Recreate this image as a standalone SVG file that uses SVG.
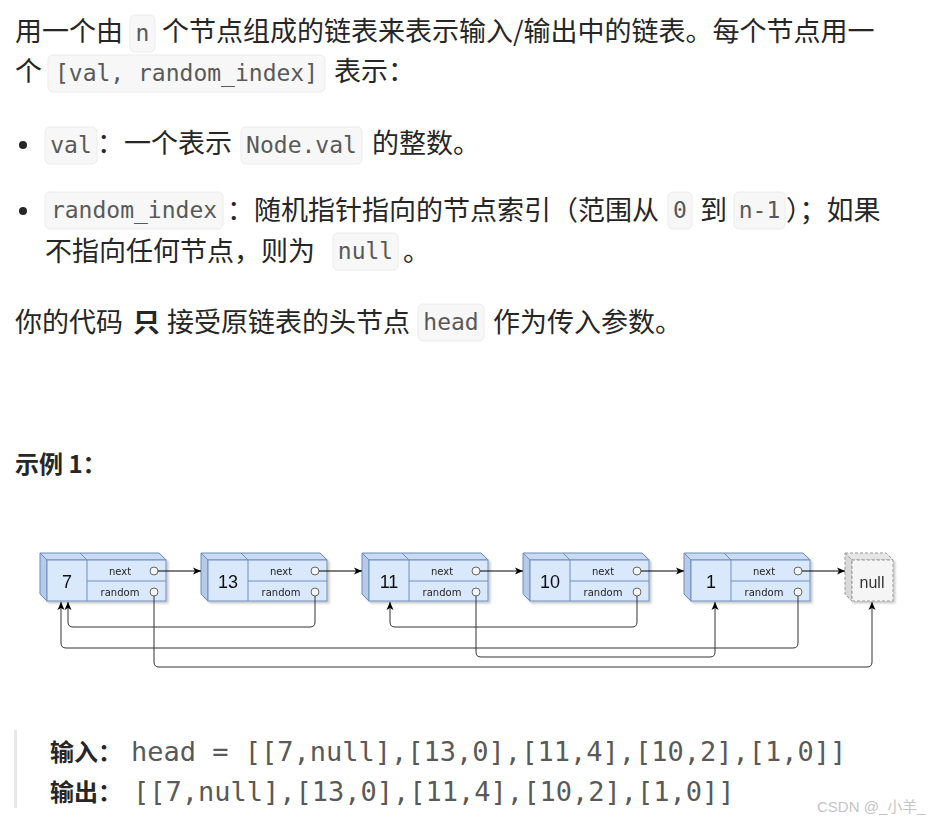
<svg xmlns="http://www.w3.org/2000/svg" width="938" height="821" viewBox="0 0 938 821">
<style>
.t{font-family:"Noto Sans CJK SC","Noto Sans",sans-serif;font-size:27px;fill:#262626}
.bd{font-weight:700}
.h{font-family:"Noto Sans CJK SC","Noto Sans",sans-serif;font-size:24px;font-weight:700;fill:#262626}
.c{font-family:"DejaVu Sans Mono","Liberation Mono",monospace;font-size:23px;fill:#595959;text-anchor:middle}
.m{font-family:"DejaVu Sans Mono","Liberation Mono",monospace;font-size:27px;fill:#595959}
.cb{fill:#f7f7f7;stroke:#ebebeb;stroke-width:1}
.front{fill:#dae8fc;stroke:#6c8ebf;stroke-width:1}
.top{fill:#c9daf2;stroke:#6c8ebf;stroke-width:1;stroke-linejoin:round}
.side{fill:#b7cbe8;stroke:#6c8ebf;stroke-width:1;stroke-linejoin:round}
.ln{stroke:#6c8ebf;stroke-width:1;fill:none}
.val{font-family:"Liberation Sans","DejaVu Sans",sans-serif;font-size:18px;fill:#111;text-anchor:middle}
.lbl{font-family:"DejaVu Sans",sans-serif;font-size:10px;fill:#222;text-anchor:middle}
.port{fill:#f5f5f5;stroke:#666;stroke-width:1}
.nfront{fill:#f5f5f5;stroke:#999;stroke-width:1;stroke-dasharray:3 2}
.ntop{fill:#e6e6e6;stroke:#999;stroke-width:1;stroke-dasharray:3 2}
.nside{fill:#d9d9d9;stroke:#999;stroke-width:1;stroke-dasharray:3 2}
.nt{font-family:"Liberation Sans","DejaVu Sans",sans-serif;font-size:16px;fill:#333;text-anchor:middle}
.nx{stroke:#000;stroke-width:1;fill:none;marker-end:url(#arr)}
.rd{stroke:#333;stroke-width:1;fill:none;marker-end:url(#arr)}
</style>
<defs>
<marker id="arr" markerUnits="userSpaceOnUse" markerWidth="9" markerHeight="8" refX="8" refY="4" orient="auto">
<path d="M0,0.5 L8,4 L0,7.5 L2,4 z" fill="#000"/>
</marker>
<filter id="sh" x="-10%" y="-10%" width="130%" height="130%">
<feDropShadow dx="2" dy="2" stdDeviation="1.2" flood-color="#000" flood-opacity="0.22"/>
</filter>
</defs>
<rect width="938" height="821" fill="#fff"/>

<g id="text">
<text class="t" x="15" y="41">用一个由</text>
<rect class="cb" x="130" y="15" width="25" height="37" rx="5"/>
<text class="c" x="142.5" y="41">n</text>
<text class="t" x="162" y="41">个节点组成的链表来表示输入/输出中的链表。每个节点用一</text>

<text class="t" x="15" y="81">个</text>
<rect class="cb" x="48" y="55" width="277" height="37" rx="5"/>
<text class="c" x="186.5" y="81">[val, random_index]</text>
<text class="t" x="334" y="81">表示：</text>

<circle cx="23" cy="145" r="4" fill="#262626"/>
<rect class="cb" x="45" y="127" width="52" height="37" rx="5"/>
<text class="c" x="71" y="153">val</text>
<text class="t" x="97" y="153">：一个表示</text>
<rect class="cb" x="241" y="127" width="121" height="37" rx="5"/>
<text class="c" x="301.5" y="153">Node.val</text>
<text class="t" x="372" y="153">的整数。</text>

<circle cx="23" cy="211" r="4" fill="#262626"/>
<rect class="cb" x="45" y="192" width="178" height="37" rx="5"/>
<text class="c" x="134" y="218">random_index</text>
<text class="t" x="227" y="220">：随机指针指向的节点索引（范围从</text>
<rect class="cb" x="668" y="192" width="24" height="37" rx="5"/>
<text class="c" x="680" y="218">0</text>
<text class="t" x="700" y="220">到</text>
<rect class="cb" x="734" y="192" width="51" height="37" rx="5"/>
<text class="c" x="759.5" y="218">n-1</text>
<text class="t" x="786" y="220">）；如果</text>

<text class="t" x="45" y="261">不指向任何节点，则为</text>
<rect class="cb" x="333" y="233" width="65" height="37" rx="5"/>
<text class="c" x="365.5" y="259">null</text>
<text class="t" x="403" y="261">。</text>

<text class="t" x="15" y="332">你的代码</text>
<text class="t bd" x="133" y="332">只</text>
<text class="t" x="167" y="332">接受原链表的头节点</text>
<rect class="cb" x="418" y="304" width="66" height="37" rx="5"/>
<text class="c" x="451" y="330">head</text>
<text class="t" x="493" y="332">作为传入参数。</text>

<text class="h" x="15" y="473">示例 1：</text>

<rect x="14" y="730" width="3" height="78" fill="#e8e8e8"/>
<text class="h" x="50" y="761">输入：</text>
<text class="m" x="131" y="761">head = [[7,null],[13,0],[11,4],[10,2],[1,0]]</text>
<text class="h" x="50" y="801">输出：</text>
<text class="m" x="133" y="801">[[7,null],[13,0],[11,4],[10,2],[1,0]]</text>
<text x="817" y="812" font-family="Liberation Sans,Noto Sans CJK SC,sans-serif" font-size="15" fill="#c4c4c4">CSDN @_小羊_</text>
</g>

<g id="node0" transform="translate(40,0)" filter="url(#sh)">
<polygon class="top" points="0,553 119,553 126,560 7,560"/>
<polygon class="side" points="0,553 7,560 7,601 0,594"/>
<rect class="front" x="7" y="560" width="119" height="41"/>
<line class="ln" x1="40" y1="553" x2="47" y2="560"/>
<line class="ln" x1="47" y1="560" x2="47" y2="601"/>
<line class="ln" x1="47" y1="581" x2="126" y2="581"/>
<text class="val" x="27" y="588">7</text>
<text class="lbl" x="80" y="575">next</text>
<text class="lbl" x="80" y="596">random</text>
<circle class="port" cx="114" cy="571" r="4"/>
<circle class="port" cx="114" cy="592" r="4"/>
</g>
<g id="node1" transform="translate(201,0)" filter="url(#sh)">
<polygon class="top" points="0,553 119,553 126,560 7,560"/>
<polygon class="side" points="0,553 7,560 7,601 0,594"/>
<rect class="front" x="7" y="560" width="119" height="41"/>
<line class="ln" x1="40" y1="553" x2="47" y2="560"/>
<line class="ln" x1="47" y1="560" x2="47" y2="601"/>
<line class="ln" x1="47" y1="581" x2="126" y2="581"/>
<text class="val" x="27" y="588">13</text>
<text class="lbl" x="80" y="575">next</text>
<text class="lbl" x="80" y="596">random</text>
<circle class="port" cx="114" cy="571" r="4"/>
<circle class="port" cx="114" cy="592" r="4"/>
</g>
<g id="node2" transform="translate(362,0)" filter="url(#sh)">
<polygon class="top" points="0,553 119,553 126,560 7,560"/>
<polygon class="side" points="0,553 7,560 7,601 0,594"/>
<rect class="front" x="7" y="560" width="119" height="41"/>
<line class="ln" x1="40" y1="553" x2="47" y2="560"/>
<line class="ln" x1="47" y1="560" x2="47" y2="601"/>
<line class="ln" x1="47" y1="581" x2="126" y2="581"/>
<text class="val" x="27" y="588">11</text>
<text class="lbl" x="80" y="575">next</text>
<text class="lbl" x="80" y="596">random</text>
<circle class="port" cx="114" cy="571" r="4"/>
<circle class="port" cx="114" cy="592" r="4"/>
</g>
<g id="node3" transform="translate(523,0)" filter="url(#sh)">
<polygon class="top" points="0,553 119,553 126,560 7,560"/>
<polygon class="side" points="0,553 7,560 7,601 0,594"/>
<rect class="front" x="7" y="560" width="119" height="41"/>
<line class="ln" x1="40" y1="553" x2="47" y2="560"/>
<line class="ln" x1="47" y1="560" x2="47" y2="601"/>
<line class="ln" x1="47" y1="581" x2="126" y2="581"/>
<text class="val" x="27" y="588">10</text>
<text class="lbl" x="80" y="575">next</text>
<text class="lbl" x="80" y="596">random</text>
<circle class="port" cx="114" cy="571" r="4"/>
<circle class="port" cx="114" cy="592" r="4"/>
</g>
<g id="node4" transform="translate(684,0)" filter="url(#sh)">
<polygon class="top" points="0,553 119,553 126,560 7,560"/>
<polygon class="side" points="0,553 7,560 7,601 0,594"/>
<rect class="front" x="7" y="560" width="119" height="41"/>
<line class="ln" x1="40" y1="553" x2="47" y2="560"/>
<line class="ln" x1="47" y1="560" x2="47" y2="601"/>
<line class="ln" x1="47" y1="581" x2="126" y2="581"/>
<text class="val" x="27" y="588">1</text>
<text class="lbl" x="80" y="575">next</text>
<text class="lbl" x="80" y="596">random</text>
<circle class="port" cx="114" cy="571" r="4"/>
<circle class="port" cx="114" cy="592" r="4"/>
</g>
<g id="null" filter="url(#sh)">
<polygon class="ntop" points="845,553 886,553 893,560 852,560"/>
<polygon class="nside" points="845,553 852,560 852,601 845,594"/>
<rect class="nfront" x="852" y="560" width="41" height="41"/>
<text class="nt" x="872" y="588">null</text>
</g>

<g id="connectors">
<line class="nx" x1="158" y1="571" x2="201" y2="571"/>
<line class="nx" x1="319" y1="571" x2="362" y2="571"/>
<line class="nx" x1="480" y1="571" x2="523" y2="571"/>
<line class="nx" x1="641" y1="571" x2="684" y2="571"/>
<line class="nx" x1="802" y1="571" x2="845" y2="571"/>
<path class="rd" d="M315,596 V622 Q315,627 310,627 H73 Q68,627 68,622 V602"/>
<path class="rd" d="M476,596 V652 Q476,657 481,657 H710 Q715,657 715,652 V602"/>
<path class="rd" d="M637,596 V622 Q637,627 632,627 H395 Q390,627 390,622 V602"/>
<path class="rd" d="M798,596 V643 Q798,648 793,648 H66 Q61,648 61,643 V602"/>
<path class="rd" d="M154,596 V662 Q154,667 159,667 H867 Q872,667 872,662 V602"/>
</g>
</svg>
